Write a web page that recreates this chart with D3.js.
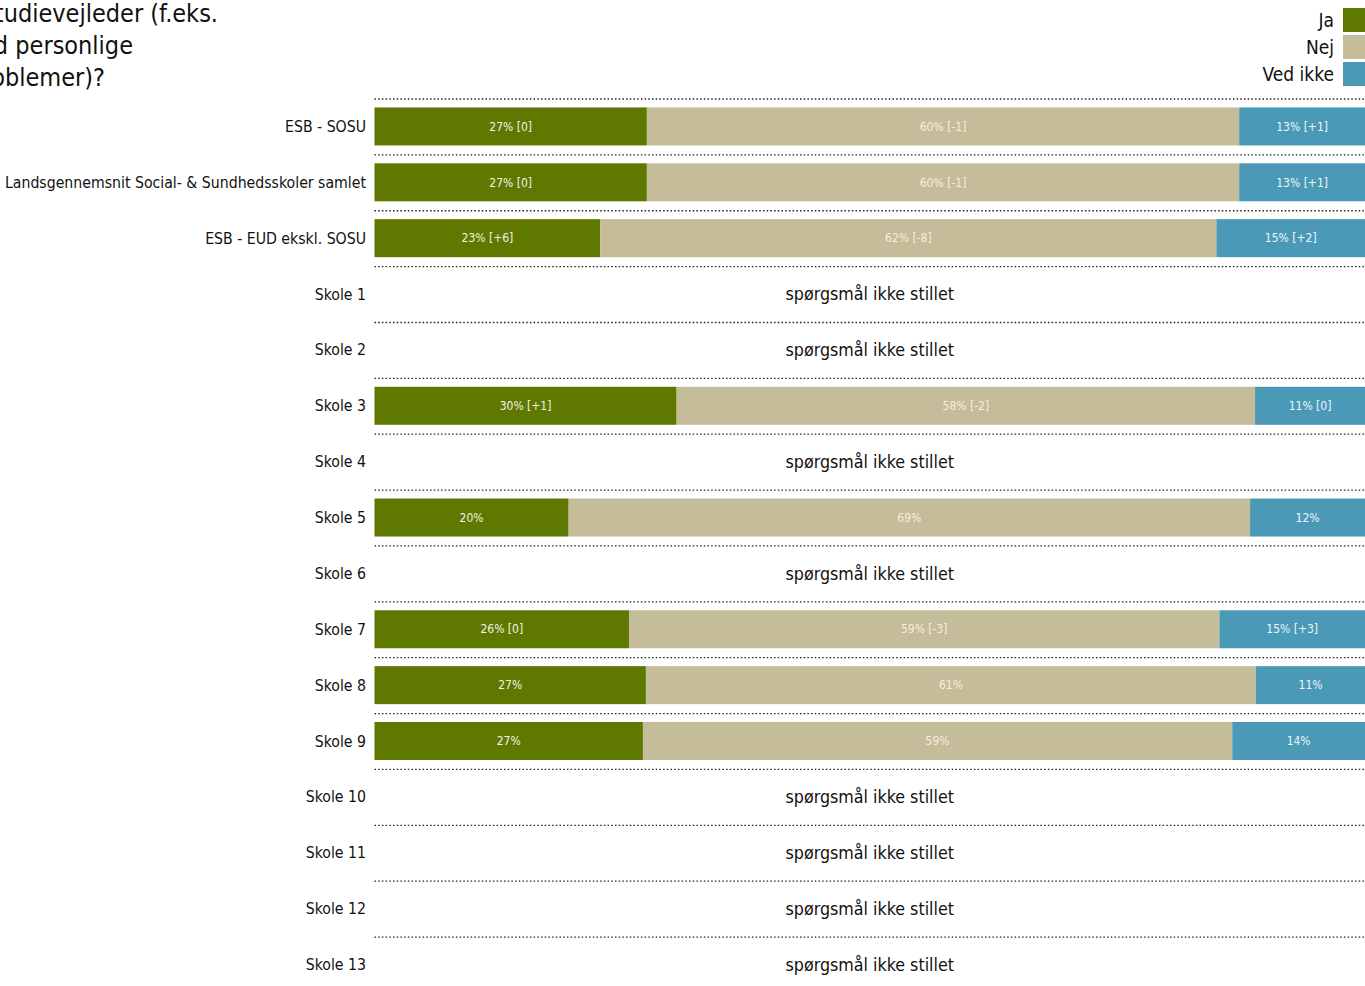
<!DOCTYPE html>
<html><head><meta charset="utf-8">
<script src="https://cdn.jsdelivr.net/npm/d3@7"></script>
<style>
body{margin:0;background:#fff;overflow:hidden}
text{font-family:"DejaVu Sans Condensed","DejaVu Sans",sans-serif}
</style></head>
<body><svg id="c" width="1365" height="986"></svg>
<script>
const categories = ["ESB - SOSU","Landsgennemsnit Social- & Sundhedsskoler samlet","ESB - EUD ekskl. SOSU","Skole 1","Skole 2","Skole 3","Skole 4","Skole 5","Skole 6","Skole 7","Skole 8","Skole 9","Skole 10","Skole 11","Skole 12","Skole 13"];
const seriesNames = ["Ja","Nej","Ved ikke"];
const colors = ["#5f7800","#c5bc99","#4a99b6"];
// null = spørgsmål ikke stillet
const jaValues     = [27.5,27.5,22.8,null,null,30.5,null,19.6,null,25.7,27.4,27.1,null,null,null,null];
const nejValues    = [59.8,59.8,62.2,null,null,58.4,null,68.8,null,59.6,61.6,59.5,null,null,null,null];
const vedIkkeValues= [12.7,12.7,15.0,null,null,11.1,null,11.6,null,14.7,11.0,13.4,null,null,null,null];
const jaLabels     = ["27% [0]","27% [0]","23% [+6]","","","30% [+1]","","20%","","26% [0]","27%","27%","","","",""];
const nejLabels    = ["60% [-1]","60% [-1]","62% [-8]","","","58% [-2]","","69%","","59% [-3]","61%","59%","","","",""];
const vedIkkeLabels= ["13% [+1]","13% [+1]","15% [+2]","","","11% [0]","","12%","","15% [+3]","11%","14%","","","",""];
const notAsked = "spørgsmål ikke stillet";
const titleLines = ["Har du inden for det seneste år talt med en studievejleder (f.eks.","om hjælp til faglige problemer eller hjælp med personlige","problemer)?"];

const svg = d3.select("#c");
const x0 = 374.5, x1 = 1365;
const x = d3.scaleLinear().domain([0,100]).range([x0,x1]);
const y = d3.scaleBand().domain(categories).range([98.5, 98.5+55.87*categories.length]).paddingInner(0).paddingOuter(0);
const barH = 38;

// title (partly clipped at left, as in the original)
const tEnds = [218,133,105];
const tY = [22,54,86];
titleLines.forEach((t,i)=>{
  svg.append("text").attr("x",tEnds[i]).attr("y",tY[i]).attr("text-anchor","end")
    .attr("font-size",25).attr("fill","#111").text(t);
});

// legend
seriesNames.forEach((s,i)=>{
  svg.append("rect").attr("x",1343).attr("y",8+i*27).attr("width",22).attr("height",24).attr("fill",colors[i]);
  svg.append("text").attr("x",1334).attr("y",27+i*27).attr("text-anchor","end").attr("font-size",19).attr("fill","#111").text(s);
});

// dotted separators
categories.forEach(c=>{
  svg.append("line").attr("x1",x0).attr("x2",x1).attr("y1",y(c)+0.5).attr("y2",y(c)+0.5)
    .attr("stroke","#222").attr("stroke-width",1.3).attr("stroke-dasharray","1.5,2.2");
});

const vals = [jaValues,nejValues,vedIkkeValues];
const labs = [jaLabels,nejLabels,vedIkkeLabels];
const labColors = ["#f2f2e6","#f4efdf","#eef6fa"];
categories.forEach((c,i)=>{
  const cy = y(c)+y.bandwidth()/2;
  svg.append("text").attr("x",366).attr("y",cy).attr("dy","0.35em").attr("text-anchor","end")
    .attr("font-size",15.7).attr("fill","#111").text(c);
  if(jaValues[i]===null){
    svg.append("text").attr("x",(x0+x1)/2).attr("y",cy).attr("dy","0.35em").attr("text-anchor","middle")
      .attr("font-size",17.7).attr("fill","#111").text(notAsked);
    return;
  }
  let acc = 0;
  vals.forEach((v,k)=>{
    const a = x(acc), b = x(acc+v[i]);
    svg.append("rect").attr("x",a).attr("y",cy-barH/2).attr("width",b-a).attr("height",barH).attr("fill",colors[k]);
    svg.append("text").attr("x",(a+b)/2).attr("y",cy).attr("dy","0.35em").attr("text-anchor","middle")
      .attr("font-size",12).attr("fill",labColors[k]).text(labs[k][i]);
    acc += v[i];
  });
});
</script></body></html>
